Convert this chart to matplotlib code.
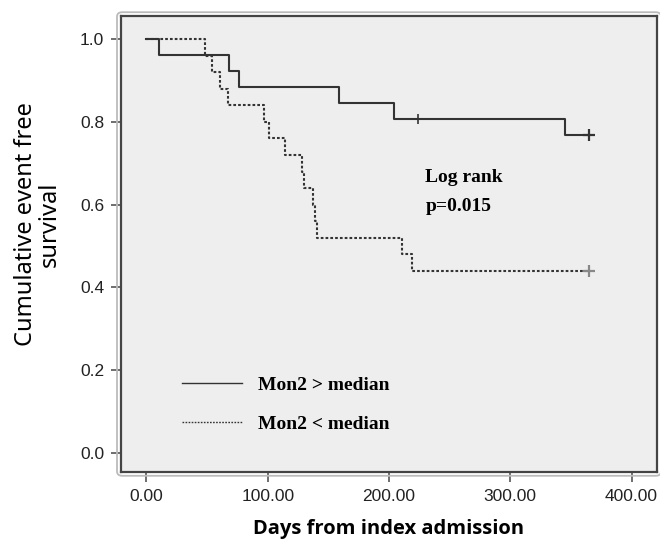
import matplotlib
matplotlib.use("Agg")
import matplotlib.pyplot as plt
from matplotlib.lines import Line2D
from matplotlib.patches import FancyBboxPatch

# Kaplan-Meier steps (days, survival)
hi_days = [0, 10, 68, 76, 159, 204, 345, 365]
hi_surv = [1.0, 0.962, 0.923, 0.885, 0.846, 0.808, 0.769, 0.769]
hi_censor_days = [224, 365]
hi_censor_surv = [0.808, 0.769]

lo_days = [0, 48, 54, 61, 67, 97, 101, 114, 128, 130, 137, 139, 141, 211, 219, 365]
lo_surv = [1.0, 0.96, 0.92, 0.88, 0.84, 0.80, 0.76, 0.72, 0.68, 0.64, 0.60,
           0.56, 0.52, 0.48, 0.44, 0.44]
lo_censor_days = [365]
lo_censor_surv = [0.44]

labels = ["Mon2 > median", "Mon2 < median"]
x_ticks = [0, 100, 200, 300, 400]
y_ticks = [0.0, 0.2, 0.4, 0.6, 0.8, 1.0]

serif = {"family": "Liberation Serif", "weight": "bold", "size": 14}

fig = plt.figure(figsize=(6.6, 5.45), dpi=100)
ax = fig.add_axes([0.1833, 0.134, 0.8122, 0.8366])
ax.set_facecolor("#eeeeee")

ax.step(hi_days, hi_surv, where="post", color="#333333", lw=1.5)
ax.step(lo_days, lo_surv, where="post", color="#333333", lw=1.5,
        dashes=(1.3, 1.0))
ax.plot(hi_censor_days[:1], hi_censor_surv[:1], "|", color="#333333", ms=7, mew=1.2)
ax.plot(hi_censor_days[1:], hi_censor_surv[1:], "+", color="#333333", ms=9, mew=1.6)
ax.plot(lo_censor_days, lo_censor_surv, "+", color="#888888", ms=9, mew=1.6)

ax.set_xlim(-21, 421)
ax.set_ylim(-0.046, 1.056)
ax.set_xticks(x_ticks)
ax.set_xticklabels([f"{v:.2f}" for v in x_ticks])
ax.set_yticks(y_ticks)
ax.set_yticklabels([f"{v:.1f}" for v in y_ticks])
ax.tick_params(direction="out", length=7, width=1.2, color="#555555",
               labelsize=12.5, labelcolor="#222222", pad=5)
for lab in ax.get_xticklabels() + ax.get_yticklabels():
    lab.set_family("Liberation Sans")
for sp in ax.spines.values():
    sp.set_color("#444444")
    sp.set_linewidth(1.6)

# light rounded outer frame
outer = FancyBboxPatch((0.1833 - 0.006, 0.134 - 0.007), 0.8122 + 0.012, 0.8366 + 0.014,
                       boxstyle="round,pad=0,rounding_size=0.008",
                       transform=fig.transFigure, fill=False,
                       ec="#bbbbbb", lw=1.3, zorder=0)
fig.patches.append(outer)

ax.text(230, 0.665, "Log rank", fontdict=serif, va="center")
ax.text(230, 0.595, "p=0.015", fontdict=serif, va="center")

handles = [Line2D([], [], color="#333333", lw=1.0),
           Line2D([], [], color="#333333", lw=1.0, dashes=(1.2, 1.0))]
ax.legend(handles, labels, loc="upper left", bbox_to_anchor=(0.1138, 0.21),
          frameon=False, prop=serif, handlelength=3.1, handletextpad=0.8,
          labelspacing=1.1, borderpad=0, borderaxespad=0)

ax.set_xlabel("Days from index admission", family="Open Sans", weight="bold",
              fontsize=14.5, labelpad=11)
fig.text(0.0576, 0.589, "Cumulative event free\nsurvival", rotation=90,
         ha="center", va="center", multialignment="center",
         family="Noto Sans", fontsize=17, linespacing=0.95)

fig.savefig("out.png", dpi=100)
